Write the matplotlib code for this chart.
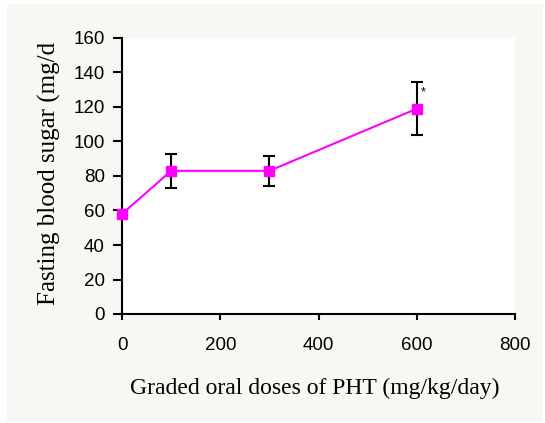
import matplotlib
matplotlib.use("Agg")
import matplotlib.pyplot as plt
from matplotlib.patches import Rectangle

doses = [0, 100, 300, 600]
fbs_mean = [58, 83, 83, 119]
fbs_err = [2.5, 10, 8.7, 15.5]
x_ticks = [0, 200, 400, 600, 800]
y_ticks = [0, 20, 40, 60, 80, 100, 120, 140, 160]

W, H = 545, 423
fig = plt.figure(figsize=(W / 100, H / 100), dpi=100, facecolor="white")
fig.patches.append(Rectangle((7 / W, 2 / H), 536 / W, 417 / H, transform=fig.transFigure,
                             facecolor="#f8f7f3", edgecolor="none", zorder=-5))
ax = fig.add_axes([122 / W, 1 - 314 / H, 393 / W, 276 / H])
ax.set_facecolor("white")
ax.set_zorder(1)

ax.errorbar(doses, fbs_mean, yerr=fbs_err, fmt="none", ecolor="black",
            elinewidth=1.5, capsize=4, capthick=1.5, zorder=2)
ax.plot(doses, fbs_mean, color="#ff00ff", lw=1.5, marker="s", markersize=7,
        markerfacecolor="#ff00ff", markeredgecolor="#ff00ff", zorder=3, clip_on=False)
ax.text(doses[-1] + 8, 128.5, "*", fontsize=9, family="Liberation Sans", ha="left", va="center")

ax.set_xlim(0, 800)
ax.set_ylim(0, 160)
ax.set_xticks(x_ticks)
ax.set_yticks(y_ticks)
for s in ["top", "right"]:
    ax.spines[s].set_visible(False)
for s in ["left", "bottom"]:
    ax.spines[s].set_linewidth(1.5)
ax.tick_params(axis="y", length=6.5, width=1.5, pad=6, labelsize=13.5)
ax.tick_params(axis="x", length=4.5, width=1.5, pad=12, labelsize=13.5)
for lab in ax.get_xticklabels() + ax.get_yticklabels():
    lab.set_family("Liberation Sans")

fig.text(315 / W, 1 - 388 / H, "Graded oral doses of PHT (mg/kg/day)", family="Liberation Serif",
         fontsize=17, ha="center", va="center")
fig.text(49 / W, 1 - 305 / H, "Fasting blood sugar (mg/d", family="Liberation Serif",
         fontsize=18, ha="center", va="bottom", rotation=90)

fig.savefig("out.png", dpi=100, facecolor=fig.get_facecolor())
